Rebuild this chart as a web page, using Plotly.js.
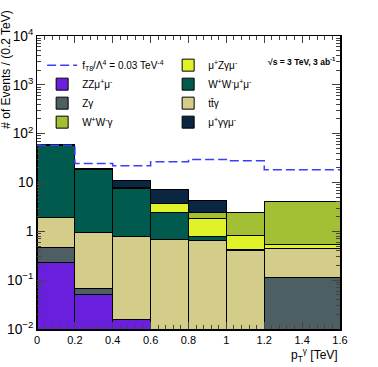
<!DOCTYPE html>
<html>
<head>
<meta charset="utf-8">
<script src="https://cdn.plot.ly/plotly-3.0.1.min.js"></script>
<style>
  html, body { margin: 0; padding: 0; background: #fff; }
  #plot { width: 378px; height: 367px; }
</style>
</head>
<body>
<div id="plot"></div>
<script>
// bins in p_T^gamma (TeV), last bin is wider
let binLow = [0, 0.2, 0.4, 0.6, 0.8, 1.0, 1.2];
let binWidths = [0.2, 0.2, 0.2, 0.2, 0.2, 0.2, 0.4];
let binEdges = [0, 0.2, 0.4, 0.6, 0.8, 1.0, 1.2, 1.6];

// stacked backgrounds, bottom to top (per-process contribution)
let zzmumu = [0.23, 0.050, 0.0156, 0, 0, 0, 0];
let zgamma = [0.23, 0.019, 0, 0, 0, 0, 0.115];
let ttgamma = [1.44, 0.87, 0.76, 0.69, 0.65, 0.40, 0.325];
let wwmumu = [54.1, 17.8, 6.8, 1.7, 0.15, 0.02, 0];
let muzgmu = [4.0, 0.2, 0.2, 1.3, 1.02, 0.42, 0.10];
let wwgamma = [0.5, 0.1, 0.3, 0.05, 0.6, 1.58, 3.56];
let muggmu = [0.5, 0.2, 3.0, 3.45, 1.9, 0, 0];

// signal f_T8 / Lambda^4 = 0.03 TeV^-4
let signal = [58, 24.5, 22, 26.5, 29.6, 27.8, 18.2];

let xTicks = [0, 0.2, 0.4, 0.6, 0.8, 1, 1.2, 1.4, 1.6];
let xTickText = ['0', '0.2', '0.4', '0.6', '0.8', '1', '1.2', '1.4', '1.6'];

function bkg(name, vals, color, rank) {
  return {
    type: 'bar',
    x: binLow,
    y: vals,
    width: binWidths,
    offset: 0,
    name: name,
    legendrank: rank,
    marker: {color: color, line: {color: '#000', width: 1}},
    hoverinfo: 'skip'
  };
}

let data = [
  bkg('ZZμ<sup>+</sup>μ<sup>-</sup>', zzmumu, '#6a1fdc', 3),
  bkg('Zγ', zgamma, '#4e5f63', 5),
  bkg('tt̄γ', ttgamma, '#d4cd8a', 6),
  bkg('W<sup>+</sup>W<sup>-</sup>μ<sup>+</sup>μ<sup>-</sup>', wwmumu, '#005a4e', 4),
  bkg('μ<sup>+</sup>Zγμ<sup>-</sup>', muzgmu, '#dff22a', 2),
  bkg('W<sup>+</sup>W<sup>-</sup>γ', wwgamma, '#a3bf33', 7),
  bkg('μ<sup>+</sup>γγμ<sup>-</sup>', muggmu, '#0b2640', 8),
  {
    type: 'scatter',
    mode: 'lines',
    x: binEdges,
    y: signal.concat([signal[signal.length - 1]]),
    line: {shape: 'hv', color: '#3c3cff', width: 1.5, dash: '9px,4px'},
    name: 'f<sub>T8</sub>/Λ<sup>4</sup> = 0.03 TeV<sup>-4</sup>',
    legendrank: 1,
    hoverinfo: 'skip'
  }
];

let font = {family: 'Liberation Sans, Arial, sans-serif', color: '#000'};

let layout = {
  width: 378,
  height: 367,
  margin: {l: 37, r: 38, t: 36, b: 38},
  barmode: 'stack',
  bargap: 0,
  paper_bgcolor: '#fff',
  plot_bgcolor: '#fff',
  font: Object.assign({size: 11}, font),
  showlegend: true,
  legend: {
    orientation: 'h',
    traceorder: 'normal',
    x: 0.017, y: 0.95,
    xanchor: 'left', yanchor: 'top',
    entrywidth: 81,
    entrywidthmode: 'pixels',
    bgcolor: 'rgba(0,0,0,0)',
    font: Object.assign({size: 10}, font),
    itemwidth: 30
  },
  xaxis: {
    range: [0, 1.6],
    tickvals: xTicks,
    ticktext: xTickText,
    ticks: 'inside',
    ticklen: 7,
    showline: true,
    linecolor: '#000',
    linewidth: 1.5,
    mirror: 'allticks',
    showgrid: false,
    zeroline: false,
    minor: {ticks: 'inside', ticklen: 4, dtick: 0.04, tick0: 0, showgrid: false},
    tickfont: Object.assign({size: 11}, font)
  },
  yaxis: {
    type: 'log',
    range: [-2, 4],
    tickmode: 'linear',
    tick0: 0,
    dtick: 1,
    exponentformat: 'power',
    ticks: 'inside',
    ticklen: 8,
    showline: true,
    linecolor: '#000',
    linewidth: 1.5,
    mirror: 'allticks',
    showgrid: false,
    zeroline: false,
    minor: {ticks: 'inside', ticklen: 4, dtick: 'D1', showgrid: false},
    tickfont: Object.assign({size: 11}, font)
  },
  annotations: [
    {
      text: '√s = 3 TeV, 3 ab<sup>-1</sup>',
      xref: 'paper', yref: 'paper',
      x: 0.995, y: 0.912,
      xanchor: 'right', yanchor: 'middle',
      showarrow: false,
      font: Object.assign({size: 8.5, weight: 'bold'}, font)
    },
    {
      text: 'p<sub>T</sub><sup>γ</sup> [TeV]',
      xref: 'paper', yref: 'paper',
      x: 1.0, y: -0.088,
      xanchor: 'right', yanchor: 'middle',
      showarrow: false,
      font: Object.assign({size: 12}, font)
    },
    {
      text: '# of Events / (0.2 TeV)',
      xref: 'paper', yref: 'paper',
      x: -0.102, y: 1.095,
      xanchor: 'center', yanchor: 'top',
      textangle: -90,
      showarrow: false,
      font: Object.assign({size: 12}, font)
    }
  ]
};

Plotly.newPlot('plot', data, layout, {displayModeBar: false, staticPlot: true});
</script>
</body>
</html>
